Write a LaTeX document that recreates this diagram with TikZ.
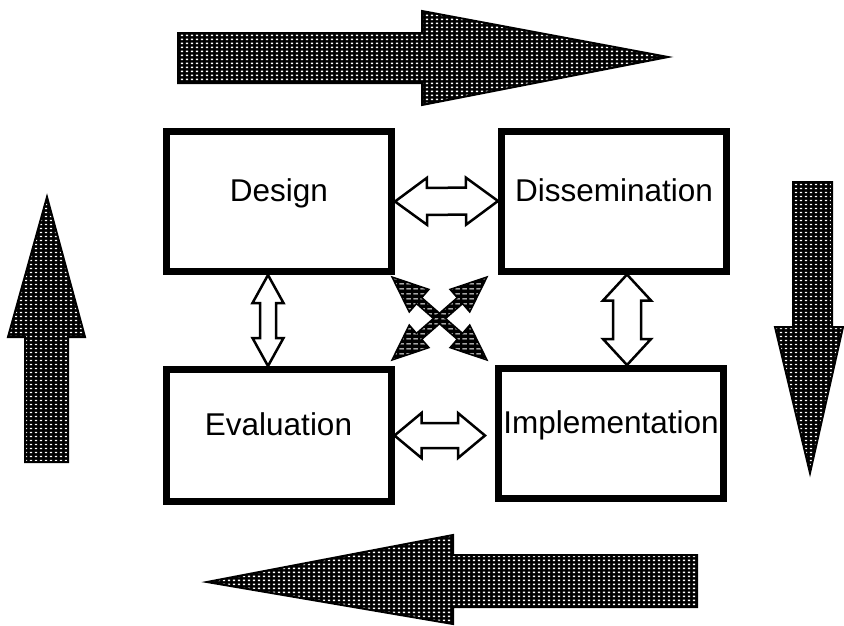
\documentclass[tikz,border=0pt]{standalone}
\usepackage{fontspec}
\setmainfont{Liberation Sans}
\usetikzlibrary{calc,patterns}

\pgfdeclarepatternformonly{stipple}{\pgfpointorigin}{\pgfpoint{4.5pt}{4pt}}{\pgfpoint{4.5pt}{4pt}}{%
  \pgfpathrectangle{\pgfpoint{0.9pt}{1.2pt}}{\pgfpoint{2.6pt}{1.6pt}}%
  \pgfusepath{fill}}
\pgfdeclarepatternformonly{hatch}{\pgfpointorigin}{\pgfpoint{7pt}{5pt}}{\pgfpoint{7pt}{5pt}}{%
  \pgfpathrectangle{\pgfpoint{0.5pt}{1.8pt}}{\pgfpoint{5pt}{1.4pt}}%
  \pgfusepath{fill}}

% #1 from, #2 to, #3 head length, #4 head half width, #5 shaft half width
\newcommand\dblarrow[6][hollow]{%
  \draw[#1] (#2)
    -- ($(#2)!#4!(#3)!#5!90:(#3)$) -- ($(#2)!#4!(#3)!#6!90:(#3)$)
    -- ($(#3)!#4!(#2)!#6!-90:(#2)$) -- ($(#3)!#4!(#2)!#5!-90:(#2)$)
    -- (#3)
    -- ($(#3)!#4!(#2)!#5!90:(#2)$) -- ($(#3)!#4!(#2)!#6!90:(#2)$)
    -- ($(#2)!#4!(#3)!#6!-90:(#3)$) -- ($(#2)!#4!(#3)!#5!-90:(#3)$)
    -- cycle;}
\newcommand\sglarrow[6][hatched]{%
  \draw[#1] ($(#2)!#6!90:(#3)$)
    -- ($(#3)!#4!(#2)!#6!-90:(#2)$) -- ($(#3)!#4!(#2)!#5!-90:(#2)$)
    -- (#3)
    -- ($(#3)!#4!(#2)!#5!90:(#2)$) -- ($(#3)!#4!(#2)!#6!90:(#2)$)
    -- ($(#2)!#6!-90:(#3)$) -- cycle;}

\begin{document}
\begin{tikzpicture}[x=1pt, y=-1pt,
    stage/.style={draw, line width=7pt, inner sep=0pt, minimum width=225pt,
      text height=12pt, text depth=12pt, font=\fontsize{31.5}{36}\selectfont},
    hollow/.style={draw, fill=white, line width=2.5pt, line join=miter},
    shaded/.style={draw, line width=2pt, line join=miter, preaction={fill=black},
      pattern=stipple, pattern color=white},
    hatched/.style={draw, line width=1.5pt, line join=miter, preaction={fill=black},
      pattern=hatch, pattern color=white}]
  \useasboundingbox (0,0) rectangle (844,625);
  %
  \draw[shaded] (178,33) -- (422,33) -- (422,11) -- (668,57) -- (422,105) -- (422,83) -- (178,83) -- cycle;
  \draw[shaded] (793,182) -- (832,182) -- (832,327) -- (843,327) -- (810,473) -- (775,327) -- (793,327) -- cycle;
  \draw[shaded] (697,555) -- (453,555) -- (453,535) -- (207,582) -- (453,624) -- (453,607) -- (697,607) -- cycle;
  \draw[shaded] (25,462) -- (25,337) -- (8,337) -- (47,197) -- (85,337) -- (68,337) -- (68,462) -- cycle;
  %
  \node[stage, minimum height=140pt] (design) at (279,201.5) {Design};
  \node[stage, minimum height=140pt] (dissem) at (614,201) {Dissemination};
  \node[stage, minimum height=132pt] (eval) at (278.5,435.5) {Evaluation};
  \node[stage, minimum height=130pt] (impl) at (611,433.5) {Implementation};
  %
  \coordinate (dl) at ($(design.south)+(-11,0)$);
  \coordinate (el) at ($(eval.north)+(-10.5,0)$);
  \coordinate (dr) at ($(dissem.south)+(13,0)$);
  \coordinate (ir) at ($(impl.north)+(16,0)$);
  \coordinate (iw) at ($(impl.west)+(-10,2)$);
  \dblarrow{design.east}{dissem.west}{32pt}{23.5pt}{13.5pt}
  \dblarrow{eval.east}{iw}{27pt}{22.5pt}{12.5pt}
  \dblarrow{dl}{el}{28pt}{15.5pt}{8pt}
  \dblarrow{dr}{ir}{26pt}{24pt}{14pt}
  %
  \coordinate (hub) at (439.5,318.5);
  \coordinate (tl) at (392,277);
  \coordinate (tr) at (487,277);
  \coordinate (bl) at (392,360);
  \coordinate (br) at (487,360);
  \foreach \tip in {tl,tr,bl,br}
    \sglarrow{hub}{\tip}{36pt}{15pt}{4pt};
\end{tikzpicture}
\end{document}
